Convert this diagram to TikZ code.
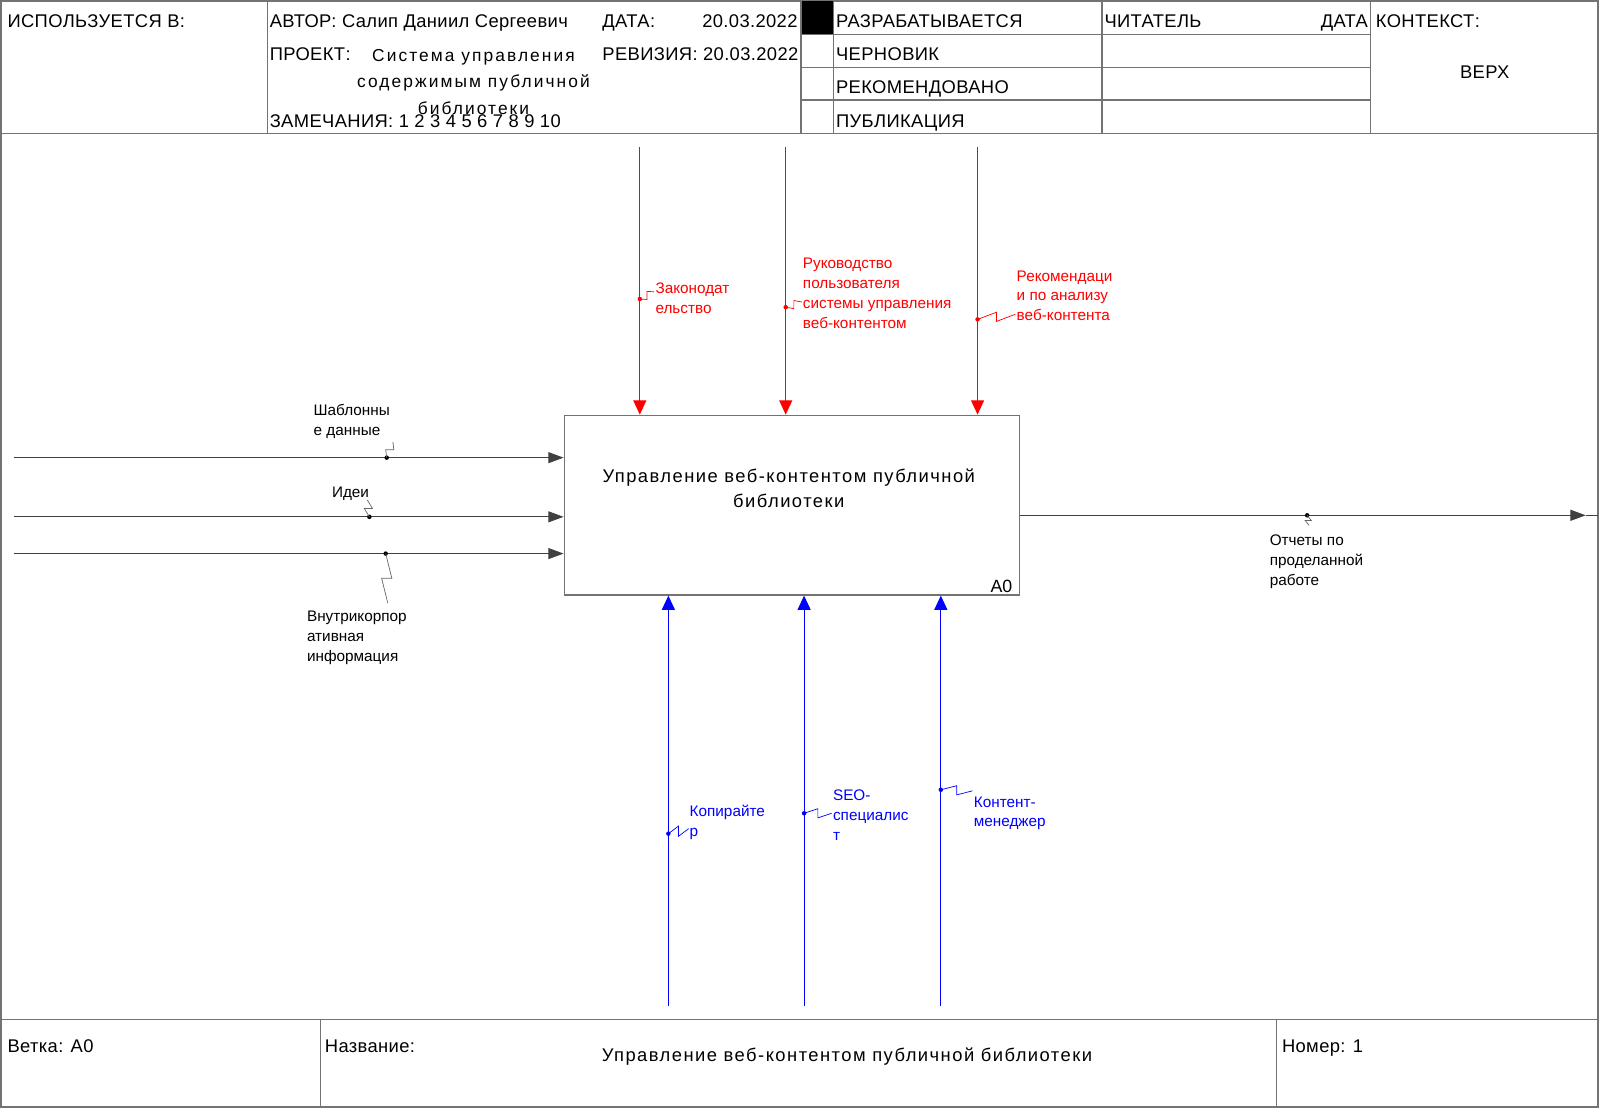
\documentclass[tikz,border=0pt]{standalone}
\usepackage{fontspec}
\setmainfont{Liberation Sans}
\newfontfamily\hdrfont[LetterSpace=2]{Liberation Sans}
\newfontfamily\spacedfont[LetterSpace=12]{Liberation Sans}
\newfontfamily\boxfont[LetterSpace=8]{Liberation Sans}
\usetikzlibrary{arrows.meta,calc}
% zigzag from a dot on an arrow to its label
\newcommand{\squig}[4]{\draw[#4] (#1) -- ($(#1)!0.5!(#2)+(#3)$) -- ($(#1)!0.5!(#2)-(#3)$) -- (#2);}

\begin{document}
\begin{tikzpicture}[x=0.5pt, y=-0.5pt,
	frm/.style={draw=black!55, line width=0.7pt},
	hdr/.style={font=\hdrfont\fontsize{9}{13}\selectfont, inner sep=0pt, anchor=base west},
	lab/.style={font=\fontsize{7.5}{9.75}\selectfont, inner sep=0pt, anchor=north west, align=left},
	inarr/.style={draw=black!75, line width=0.5pt, -{Triangle[length=7.5pt,width=5.4pt]}},
	ctlarr/.style={draw=red, line width=0.5pt, -{Triangle[length=7pt,width=6.4pt]}},
	mecharr/.style={draw=blue, line width=0.5pt, -{Triangle[length=7pt,width=6.4pt]}},
	sq/.style={line width=0.35pt}]
	\useasboundingbox (0,0) rectangle (1568,1086);

	% form
	\draw[frm] (1,1) rectangle (1566,1085);
	\draw[frm] (1,131) -- (1566,131);
	\draw[frm] (1,999) -- (1566,999);
	\fill[black] (785,1) rectangle (817,34);
	\foreach \x in {262,785,817,1080,1343} \draw[frm] (\x,1) -- (\x,131);
	\foreach \y in {34,66,98} \draw[frm] (785,\y) -- (1343,\y);
	\draw[frm] (314,999) -- (314,1085);
	\draw[frm] (1251,999) -- (1251,1085);

	% header
	\node[hdr] (usedin) at (7,27) {ИСПОЛЬЗУЕТСЯ В:};
	\node[hdr] (author) at (264,27) {АВТОР: Салип Даниил Сергеевич};
	\node[hdr] (date) at (590,27) {ДАТА:};
	\node[hdr, anchor=base east] (dateval) at (782,27) {20.03.2022};
	\node[hdr] (project) at (264,59.5) {ПРОЕКТ:};
	\node[hdr, font=\spacedfont\fontsize{8.5}{13}\selectfont, anchor=north, align=center] (projname) at (464,41.3) {\strut Система управления\\содержимым публичной\\библиотеки};
	\node[hdr] (revision) at (590,59.5) {РЕВИЗИЯ: 20.03.2022};
	\node[hdr] (notes) at (264,125) {ЗАМЕЧАНИЯ: 1 2 3 4 5 6 7 8 9 10};
	\node[hdr] (working) at (819,27) {РАЗРАБАТЫВАЕТСЯ};
	\node[hdr] (draft) at (819,59.5) {ЧЕРНОВИК};
	\node[hdr] (recommended) at (819,92) {РЕКОМЕНДОВАНО};
	\node[hdr] (publication) at (819,125) {ПУБЛИКАЦИЯ};
	\node[hdr] (reader) at (1082,27) {ЧИТАТЕЛЬ};
	\node[hdr, anchor=base east] (readerdate) at (1341,27) {ДАТА};
	\node[hdr] (context) at (1348,27) {КОНТЕКСТ:};
	\node[hdr, anchor=base] (top) at (1455,77) {ВЕРХ};

	% footer
	\node[hdr] (branch) at (7,1031) {Ветка: A0};
	\node[hdr] (name) at (318,1031) {Название:};
	\node[hdr, anchor=base, font=\boxfont\fontsize{9}{12}\selectfont] (title) at (830,1040.5) {Управление веб-контентом публичной библиотеки};
	\node[hdr] (number) at (1256,1031) {Номер: 1};

	% function box
	\node[frm, minimum width=223pt, minimum height=88pt, inner sep=0pt] (fn) at (776,495) {};
	\node[font=\boxfont\fontsize{9}{12.25}\selectfont, align=center, anchor=north, inner sep=0pt] (fntext) at (773,454.9) {\strut Управление веб-контентом публичной\\библиотеки};
	\node[font=\fontsize{8.7}{10}\selectfont, anchor=base east, inner sep=0pt] (fnid) at (992.5,580.8) {A0};

	% inputs
	\coordinate (in1) at (14,448.5);
	\coordinate (in2) at (14,506.5);
	\coordinate (in3) at (14,542.5);
	\draw[inarr] (in1) -- (in1 -| fn.west);
	\draw[inarr] (in2) -- (in2 -| fn.west);
	\draw[inarr] (in3) -- (in3 -| fn.west);
	\node[lab] (tpl) at (307,393.4) {\strut Шаблонны\\е данные};
	\node[lab] (ideas) at (325,473.4) {\strut Идеи};
	\node[lab] (corp) at (300.5,595.4) {\strut Внутрикорпор\\ативная\\информация};
	\coordinate (di1) at (379,448.5); \coordinate (ei1) at (385,433);
	\coordinate (di2) at (362,506.5); \coordinate (ei2) at (360,490);
	\coordinate (di3) at (378,542.5); \coordinate (ei3) at (380,591);
	\fill (di1) circle (2.2); \squig{di1}{ei1}{-4,0}{black!60, sq}
	\fill (di2) circle (2.2); \squig{di2}{ei2}{-4,0}{black!60, sq}
	\fill (di3) circle (2.2); \squig{di3}{ei3}{5,0}{black!60, sq}

	% output
	\coordinate (out1) at (1554,505);
	\coordinate (outend) at (1566,505);
	\draw[inarr] (fn.east |- out1) -- (out1);
	\draw[draw=black!75, line width=0.5pt] (out1) -- (outend);
	\node[lab] (reports) at (1244,520.4) {\strut Отчеты по\\проделанной\\работе};
	\coordinate (do1) at (1281,505); \coordinate (eo1) at (1283,515);
	\fill (do1) circle (2.2); \squig{do1}{eo1}{3,0}{black!60, sq}

	% controls
	\coordinate (c1) at (627,144);
	\coordinate (c2) at (770,144);
	\coordinate (c3) at (958,144);
	\draw[ctlarr] (c1) -- (c1 |- fn.north);
	\draw[ctlarr] (c2) -- (c2 |- fn.north);
	\draw[ctlarr] (c3) -- (c3 |- fn.north);
	\node[lab, red] (law) at (642,273.9) {\strut Законодат\\ельство};
	\node[lab, red] (guide) at (786.5,249.4) {\strut Руководство\\пользователя\\системы управления\\веб-контентом};
	\node[lab, red] (advice) at (996,261.4) {\strut Рекомендаци\\и по анализу\\веб-контента};
	\coordinate (dc1) at (627,293); \coordinate (ec1) at (641,286);
	\coordinate (dc2) at (770,301); \coordinate (ec2) at (786,296);
	\coordinate (dc3) at (958,313); \coordinate (ec3) at (995,308);
	\fill[red] (dc1) circle (2.2); \squig{dc1}{ec1}{0,4}{red, sq}
	\fill[red] (dc2) circle (2.2); \squig{dc2}{ec2}{0,4}{red, sq}
	\fill[red] (dc3) circle (2.2); \squig{dc3}{ec3}{0,-4.5}{red, sq}

	% mechanisms
	\coordinate (m1) at (655,986);
	\coordinate (m2) at (788,986);
	\coordinate (m3) at (922,986);
	\draw[mecharr] (m1) -- (m1 |- fn.south);
	\draw[mecharr] (m2) -- (m2 |- fn.south);
	\draw[mecharr] (m3) -- (m3 |- fn.south);
	\node[lab, blue] (writer) at (675.5,786.4) {\strut Копирайте\\р};
	\node[lab, blue] (seo) at (816,770.4) {\strut SEO-\\специалис\\т};
	\node[lab, blue] (manager) at (954,776.9) {\strut Контент-\\менеджер};
	\coordinate (dm1) at (655,817); \coordinate (em1) at (675,812);
	\coordinate (dm2) at (788,797); \coordinate (em2) at (815,797);
	\coordinate (dm3) at (922,774); \coordinate (em3) at (953,775);
	\fill[blue] (dm1) circle (2.2); \squig{dm1}{em1}{0,-5}{blue, sq}
	\fill[blue] (dm2) circle (2.2); \squig{dm2}{em2}{0,-4.5}{blue, sq}
	\fill[blue] (dm3) circle (2.2); \squig{dm3}{em3}{0,-4.5}{blue, sq}
\end{tikzpicture}
\end{document}
